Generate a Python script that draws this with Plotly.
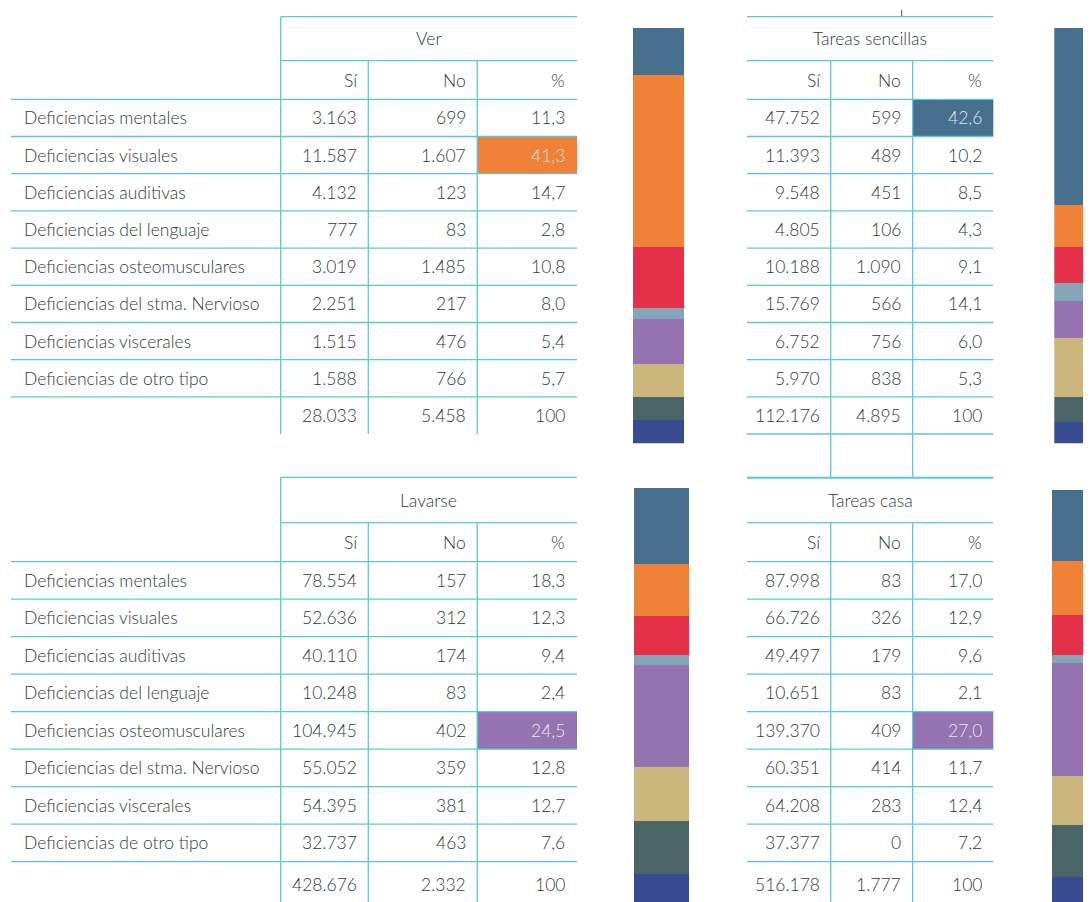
import plotly.graph_objects as go

W, H = 1091, 902
OFF = 8  # the page body margin pushes the figure 8 px right and down

categorias = ["Deficiencias mentales", "Deficiencias visuales", "Deficiencias auditivas",
              "Deficiencias del lenguaje", "Deficiencias osteomusculares",
              "Deficiencias del stma. Nervioso", "Deficiencias viscerales",
              "Deficiencias de otro tipo"]
cabecera = ["Sí", "No", "%"]

ver_si = [3163, 11587, 4132, 777, 3019, 2251, 1515, 1588]
ver_no = [699, 1607, 123, 83, 1485, 217, 476, 766]
ver_pct = [11.3, 41.3, 14.7, 2.8, 10.8, 8.0, 5.4, 5.7]
ver_tot = [28033, 5458, 100]

sencillas_si = [47752, 11393, 9548, 4805, 10188, 15769, 6752, 5970]
sencillas_no = [599, 489, 451, 106, 1090, 566, 756, 838]
sencillas_pct = [42.6, 10.2, 8.5, 4.3, 9.1, 14.1, 6.0, 5.3]
sencillas_tot = [112176, 4895, 100]

lavarse_si = [78554, 52636, 40110, 10248, 104945, 55052, 54395, 32737]
lavarse_no = [157, 312, 174, 83, 402, 359, 381, 463]
lavarse_pct = [18.3, 12.3, 9.4, 2.4, 24.5, 12.8, 12.7, 7.6]
lavarse_tot = [428676, 2332, 100]

casa_si = [87998, 66726, 49497, 10651, 139370, 60351, 64208, 37377]
casa_no = [83, 326, 179, 83, 409, 414, 283, 0]
casa_pct = [17.0, 12.9, 9.6, 2.1, 27.0, 11.7, 12.4, 7.2]
casa_tot = [516178, 1777, 100]

colores = ["#47708f", "#f08136", "#e5304a", "#84a6b8", "#9473b0", "#cbb77c", "#4b6566", "#374a92"]

LINE = "#5cc7dc"
TXT = "#2f3b37"
FONT = "Lato"
FSIZE = 17.5


def miles(v):
    return f"{v:,}".replace(",", ".")


def coma(v):
    return f"{v:.1f}".replace(".", ",")


# table geometry (pixels of the reference page)
izq = dict(cols=[280.7, 368.3, 477.2, 577], rights=[359, 468, 567], x0=11)
der = dict(cols=[747, 830.7, 912.6, 993.3], rights=[821.7, 903.3, 984], x0=747)
arriba = dict(top=16.7, sub=60.7, rows=[99.3 + 37.2 * i for i in range(9)], tot=415.8, end=434)
abajo = dict(top=477.3, sub=522.7, rows=[561.7 + 37.5 * i for i in range(9)], tot=884, end=910)

tablas = [
    ("Ver", ver_si, ver_no, ver_pct, ver_tot, izq, arriba, 1),
    ("Tareas sencillas", sencillas_si, sencillas_no, sencillas_pct, sencillas_tot, der, arriba, 0),
    ("Lavarse", lavarse_si, lavarse_no, lavarse_pct, lavarse_tot, izq, abajo, 4),
    ("Tareas casa", casa_si, casa_no, casa_pct, casa_tot, der, abajo, 4),
]

# stacked bar boxes: left, right, top, bottom (may run past the page edge)
barras = [
    (633, 684.3, 27.7, 443.3),
    (1054.3, 1105.6, 27.7, 443.3),
    (634, 689.3, 487.7, 905),
    (1051.7, 1107, 490, 907),
]

fig = go.Figure()
fig.add_trace(go.Scatter(x=[OFF + 1], y=[OFF + 1], mode="markers", marker=dict(opacity=0),
                         showlegend=False, hoverinfo="skip"))

shapes = []
annotations = []


def linea(x0, y0, x1, y1):
    shapes.append(dict(type="line", xref="x", yref="y", x0=x0, y0=y0, x1=x1, y1=y1,
                       line=dict(color=LINE, width=1.3), layer="above"))


def texto(x, y, s, anchor="right", color=TXT):
    annotations.append(dict(x=x, y=y, xref="x", yref="y", text=s, showarrow=False,
                            xanchor=anchor, yanchor="middle",
                            font=dict(family=FONT, size=FSIZE, color=color, weight=300)))


for titulo, si, no, pct, tot, c, g, hi in tablas:
    cols, rights = c["cols"], c["rights"]
    rows = g["rows"]
    # highlighted cell
    shapes.append(dict(type="rect", xref="x", yref="y", x0=cols[2], x1=cols[3],
                       y0=rows[hi], y1=rows[hi + 1], fillcolor=colores[hi],
                       line=dict(width=0), layer="below"))
    # horizontal lines
    linea(cols[0], g["top"], cols[3], g["top"])
    linea(cols[0], g["sub"], cols[3], g["sub"])
    for r in rows:
        linea(c["x0"], r, cols[3], r)
    # vertical lines
    if c is izq:
        linea(cols[0], g["top"], cols[0], g["end"])
    for xv in cols[1:3]:
        linea(xv, g["sub"], xv, g["end"])
    # header texts
    texto((cols[0] + cols[3]) / 2, (g["top"] + g["sub"]) / 2, titulo, anchor="center")
    for k in range(3):
        texto(rights[k], (g["sub"] + rows[0]) / 2, cabecera[k])
    # body
    for i in range(8):
        yc = (rows[i] + rows[i + 1]) / 2
        if c is izq:
            texto(22, yc, categorias[i], anchor="left")
        texto(rights[0], yc, miles(si[i]))
        texto(rights[1], yc, miles(no[i]))
        texto(rights[2], yc, coma(pct[i]),
              color="rgba(255,255,255,0.85)" if i == hi else TXT)
    texto(rights[0], g["tot"], miles(tot[0]))
    texto(rights[1], g["tot"], miles(tot[1]))
    texto(rights[2], g["tot"], str(tot[2]))

# extra empty row under "Tareas sencillas"
linea(747, 434, 993.3, 434)
linea(747, 478, 993.3, 478)
for xv in der["cols"][1:3]:
    linea(xv, 434, xv, 478)
shapes.append(dict(type="line", xref="x", yref="y", x0=901.7, x1=901.7, y0=10, y1=16,
                   line=dict(color="#555555", width=1)))

# stacked bars
pcts = [ver_pct, sencillas_pct, lavarse_pct, casa_pct]
axes = {}
for n, (xl, xr, yt, yb) in enumerate(barras):
    k = n + 2
    xr_v = min(xr, W)
    yb_v = min(yb, H)
    for i in range(8):
        fig.add_trace(go.Bar(x=[0], y=[pcts[n][i]], width=1, marker_color=colores[i],
                             marker_line_width=0, showlegend=False,
                             xaxis=f"x{k}", yaxis=f"y{k}", name=categorias[i]))
    axes[f"xaxis{k}"] = dict(domain=[(xl - OFF) / W, (xr_v - OFF) / W], visible=False,
                            fixedrange=True, anchor=f"y{k}",
                            range=[-0.5, -0.5 + (xr_v - xl) / (xr - xl)])
    axes[f"yaxis{k}"] = dict(domain=[1 - (yb_v - OFF) / H, 1 - (yt - OFF) / H], visible=False,
                            fixedrange=True, anchor=f"x{k}",
                            range=[100 * (yb_v - yt) / (yb - yt), 0])

fig.update_layout(
    width=W, height=H,
    margin=dict(l=0, r=0, t=0, b=0),
    paper_bgcolor="white", plot_bgcolor="rgba(0,0,0,0)",
    barmode="stack", bargap=0,
    xaxis=dict(range=[OFF, W + OFF], visible=False, domain=[0, 1], fixedrange=True),
    yaxis=dict(range=[H + OFF, OFF], visible=False, domain=[0, 1], fixedrange=True),
    shapes=shapes, annotations=annotations,
    **axes,
)

fig.write_html("out.html")
